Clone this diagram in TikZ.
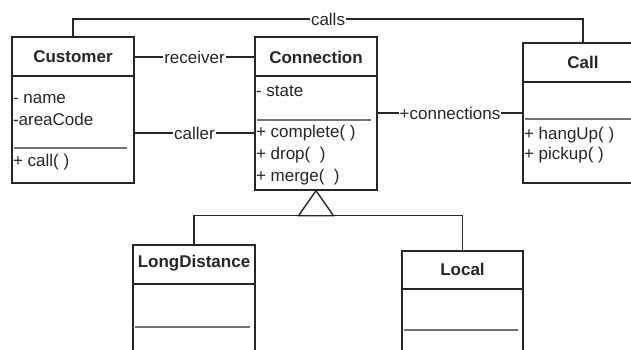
\documentclass[tikz,border=0pt]{standalone}
\usepackage{fontspec}
\setmainfont{Liberation Sans}
\begin{document}
\begin{tikzpicture}[x=1pt, y=-1pt, line width=1.4pt, color=black!85,
    font=\fontsize{17}{20}\selectfont,
    cls/.style={draw, rectangle, inner sep=0pt},
    title/.style={font=\fontsize{17}{20}\selectfont\bfseries, inner sep=1pt},
    member/.style={anchor=west, inner sep=1pt},
    lbl/.style={fill=white, inner sep=1pt},
    sep/.style={draw=black!55, line width=1.1pt}]

\clip (0,0) rectangle (631,349);
\fill[white] (0,0) rectangle (631,349);

% Klassen (Rahmen)
\node[cls, minimum width=122, minimum height=146] (cust) at (73,110)    {};
\node[cls, minimum width=122, minimum height=153] (conn) at (316,113.5) {};
\node[cls, minimum width=120, minimum height=140] (call) at (583,113)   {};
\node[cls, minimum width=122, minimum height=125] (ld)   at (194,307.5) {};
\node[cls, minimum width=121, minimum height=125] (loc)  at (462.5,313.5) {};

% Namen
\node[title] (custT) at (73,57)  {Customer};
\node[title] (connT) at (316,57) {Connection};
\node[title] (callT) at (583,62) {Call};
\node[title] (ldT)   at (194,263) {LongDistance};
\node[title] (locT)  at (462.5,269) {Local};

% Trennlinien
\draw (cust.west |- 0,76)  -- (cust.east |- 0,76);
\draw (conn.west |- 0,76)  -- (conn.east |- 0,76);
\draw (call.west |- 0,82)  -- (call.east |- 0,82);
\draw (ld.west |- 0,284)   -- (ld.east |- 0,284);
\draw (loc.west |- 0,289)  -- (loc.east |- 0,289);
\draw[sep] (14,148)  -- (127,148);
\draw[sep] (257,120) -- (371,120);
\draw[sep] (525,119) -- (631,119);
\draw[sep] (135,327) -- (250,327);
\draw[sep] (404,330) -- (518,330);

% Attribute und Methoden
\node[member] (cA1) at (cust.west |- 0,99)  {- name};
\node[member] (cA2) at (cust.west |- 0,119) {-areaCode};
\node[member] (cM1) at (cust.west |- 0,162) {+ call( )};
\node[member] (nA1) at (conn.west |- 0,91)  {- state};
\node[member] (nM1) at (conn.west |- 0,133) {+ complete( )};
\node[member] (nM2) at (conn.west |- 0,155) {+ drop(\ \ )};
\node[member] (nM3) at (conn.west |- 0,177) {+ merge(\ \ )};
\node[member] (lM1) at (call.west |- 0,135) {+ hangUp( )};
\node[member] (lM2) at (call.west |- 0,155) {+ pickup( )};

% Assoziationen
\draw (cust.north) |- node[lbl, pos=0.75] {calls} (call.north |- 0,19) -- (call.north);
\draw (cust.east |- custT) -- node[lbl] {receiver} (conn.west |- connT);
\draw (cust.east |- nM1)   -- node[lbl] {caller}   (conn.west |- nM1);
\draw (conn.east |- call)  -- node[lbl] {+connections} (call.west);

% Vererbung
\draw (conn.south) -- ++(-17.5,25) coordinate (genL) -- ++(35,0) -- cycle;
\draw (ld.north) |- (genL) -- ++(35,0) -| (loc.north);

\end{tikzpicture}
\end{document}
